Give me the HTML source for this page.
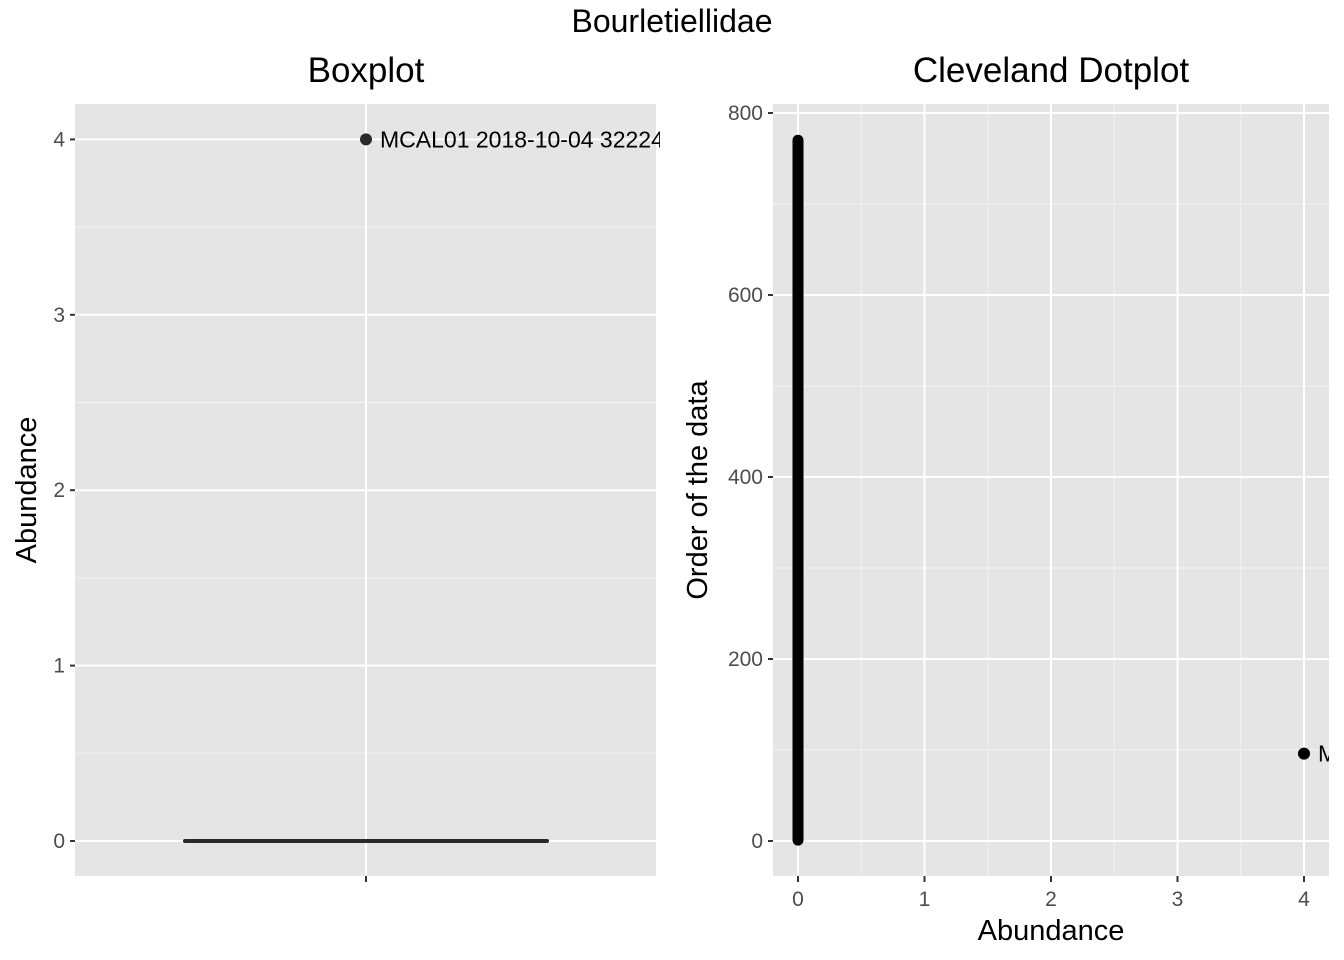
<!DOCTYPE html>
<html><head><meta charset="utf-8"><style>
body{margin:0;background:#fff}
svg{display:block;font-family:"Liberation Sans",Arial,sans-serif}
</style></head><body>
<svg id="c" width="1344" height="960">
<text x="672" y="32" text-anchor="middle" font-size="32" fill="#000">Bourletiellidae</text>
<text x="366" y="82" text-anchor="middle" font-size="35" fill="#000">Boxplot</text>
<text x="1051" y="82" text-anchor="middle" font-size="35" fill="#000">Cleveland Dotplot</text>
<g id="left"></g>
<g id="right"></g>
</svg>
<script>
const boxYTicks=[0,1,2,3,4];
const boxStats=[0,0,0,0,0];
const outlierValues=[4];
const outlierLabels=["MCAL01 2018-10-04 32224"];
const dotXTicks=[0,1,2,3,4];
const dotYTicks=[0,200,400,600,800];
const nZeros=770;
const dotOutlierX=[4];
const dotOutlierY=[96];
const dotOutlierLabels=["MCAL01 2018-10-04 32224"];

const NS="http://www.w3.org/2000/svg";
function el(p,t,a){const e=document.createElementNS(NS,t);for(const k in a)e.setAttribute(k,a[k]);p.appendChild(e);return e;}
const L=document.getElementById('left'),R=document.getElementById('right');

const lx0=75,lx1=656,ly0=104,ly1=876;
const ly=v=>841-(v-0)*175.4;
let r=el(L,'rect',{x:lx0,y:ly0,width:lx1-lx0,height:ly1-ly0,fill:'#e5e5e5'});

for(let i=0;i<boxYTicks.length-1;i++){const m=(boxYTicks[i]+boxYTicks[i+1])/2;el(L,'line',{x1:lx0,x2:lx1,y1:ly(m),y2:ly(m),stroke:'#f2f2f2','stroke-width':1});}
boxYTicks.forEach(v=>{
 const g=el(L,'line',{x1:lx0,x2:lx1,y1:ly(v),y2:ly(v),stroke:'#fff','stroke-width':2});
 
 el(L,'line',{x1:lx0-5,x2:lx0,y1:ly(v),y2:ly(v),stroke:'#333','stroke-width':2});
 const t=el(L,'text',{x:lx0-10,y:ly(v)+7,'text-anchor':'end','font-size':21,fill:'#4d4d4d'});t.textContent=v;
 
});
el(L,'line',{x1:366,x2:366,y1:ly0,y2:ly1,stroke:'#fff','stroke-width':2});
el(L,'line',{x1:366,x2:366,y1:ly1,y2:ly1+6,stroke:'#333','stroke-width':2});
const box=el(L,'rect',{x:185,y:ly(boxStats[3]),width:362,height:Math.max(0,ly(boxStats[1])-ly(boxStats[3])),fill:'#fff',stroke:'#333','stroke-width':4,'stroke-linejoin':'round'});

const med=el(L,'line',{x1:185,x2:547,y1:ly(boxStats[2]),y2:ly(boxStats[2]),stroke:'#2a2a2a','stroke-width':4,'stroke-linecap':'round'});

outlierValues.forEach((v,i)=>{
 const c=el(L,'circle',{cx:366,cy:ly(v),r:6,fill:'#2a2a2a'});
 
 const t=el(L,'text',{x:380,y:ly(v)+8,'font-size':23,fill:'#000'});t.textContent=outlierLabels[i];
 
});
el(L,'rect',{x:660,y:115,width:20,height:50,fill:'#fff'});
let yt=el(L,'text',{x:0,y:0,'text-anchor':'middle','font-size':29,fill:'#000',transform:'translate(36,490) rotate(-90)'});yt.textContent='Abundance';


const rx0=773,rx1=1329,ry0=104,ry1=876;
const rx=v=>798+v*126.5, ry=v=>841-v*0.91;
r=el(R,'rect',{x:rx0,y:ry0,width:rx1-rx0,height:ry1-ry0,fill:'#e5e5e5'});

for(let i=0;i<dotXTicks.length-1;i++){const m=(dotXTicks[i]+dotXTicks[i+1])/2;el(R,'line',{x1:rx(m),x2:rx(m),y1:ry0,y2:ry1,stroke:'#f2f2f2','stroke-width':1});}
for(let i=0;i<dotYTicks.length-1;i++){const m=(dotYTicks[i]+dotYTicks[i+1])/2;el(R,'line',{x1:rx0,x2:rx1,y1:ry(m),y2:ry(m),stroke:'#f2f2f2','stroke-width':1});}
dotXTicks.forEach(v=>{
 el(R,'line',{x1:rx(v),x2:rx(v),y1:ry0,y2:ry1,stroke:'#fff','stroke-width':2});
 el(R,'line',{x1:rx(v),x2:rx(v),y1:ry1,y2:ry1+6,stroke:'#333','stroke-width':2});
 const t=el(R,'text',{x:rx(v),y:ry1+30,'text-anchor':'middle','font-size':21,fill:'#4d4d4d'});t.textContent=v;
 
});
dotYTicks.forEach(v=>{
 el(R,'line',{x1:rx0,x2:rx1,y1:ry(v),y2:ry(v),stroke:'#fff','stroke-width':2});
 el(R,'line',{x1:rx0-5,x2:rx0,y1:ry(v),y2:ry(v),stroke:'#333','stroke-width':2});
 const t=el(R,'text',{x:rx0-10,y:ry(v)+7,'text-anchor':'end','font-size':21,fill:'#4d4d4d'});t.textContent=v;
 
});
const zl=el(R,'line',{x1:rx(0),x2:rx(0),y1:ry(1),y2:ry(nZeros),stroke:'#000','stroke-width':11,'stroke-linecap':'round'});

dotOutlierX.forEach((v,i)=>{
 const c=el(R,'circle',{cx:rx(v),cy:ry(dotOutlierY[i]),r:6,fill:'#000'});
 
 const t=el(R,'text',{x:rx(v)+14,y:ry(dotOutlierY[i])+8,'font-size':23,fill:'#000'});t.textContent=dotOutlierLabels[i];
 
});
el(R,'rect',{x:rx1,y:700,width:20,height:100,fill:'#fff'});
let xt=el(R,'text',{x:1051,y:940,'text-anchor':'middle','font-size':29,fill:'#000'});xt.textContent='Abundance';

let yt2=el(R,'text',{x:0,y:0,'text-anchor':'middle','font-size':29,fill:'#000',transform:'translate(707,490) rotate(-90)'});yt2.textContent='Order of the data';

</script>
</body></html>
